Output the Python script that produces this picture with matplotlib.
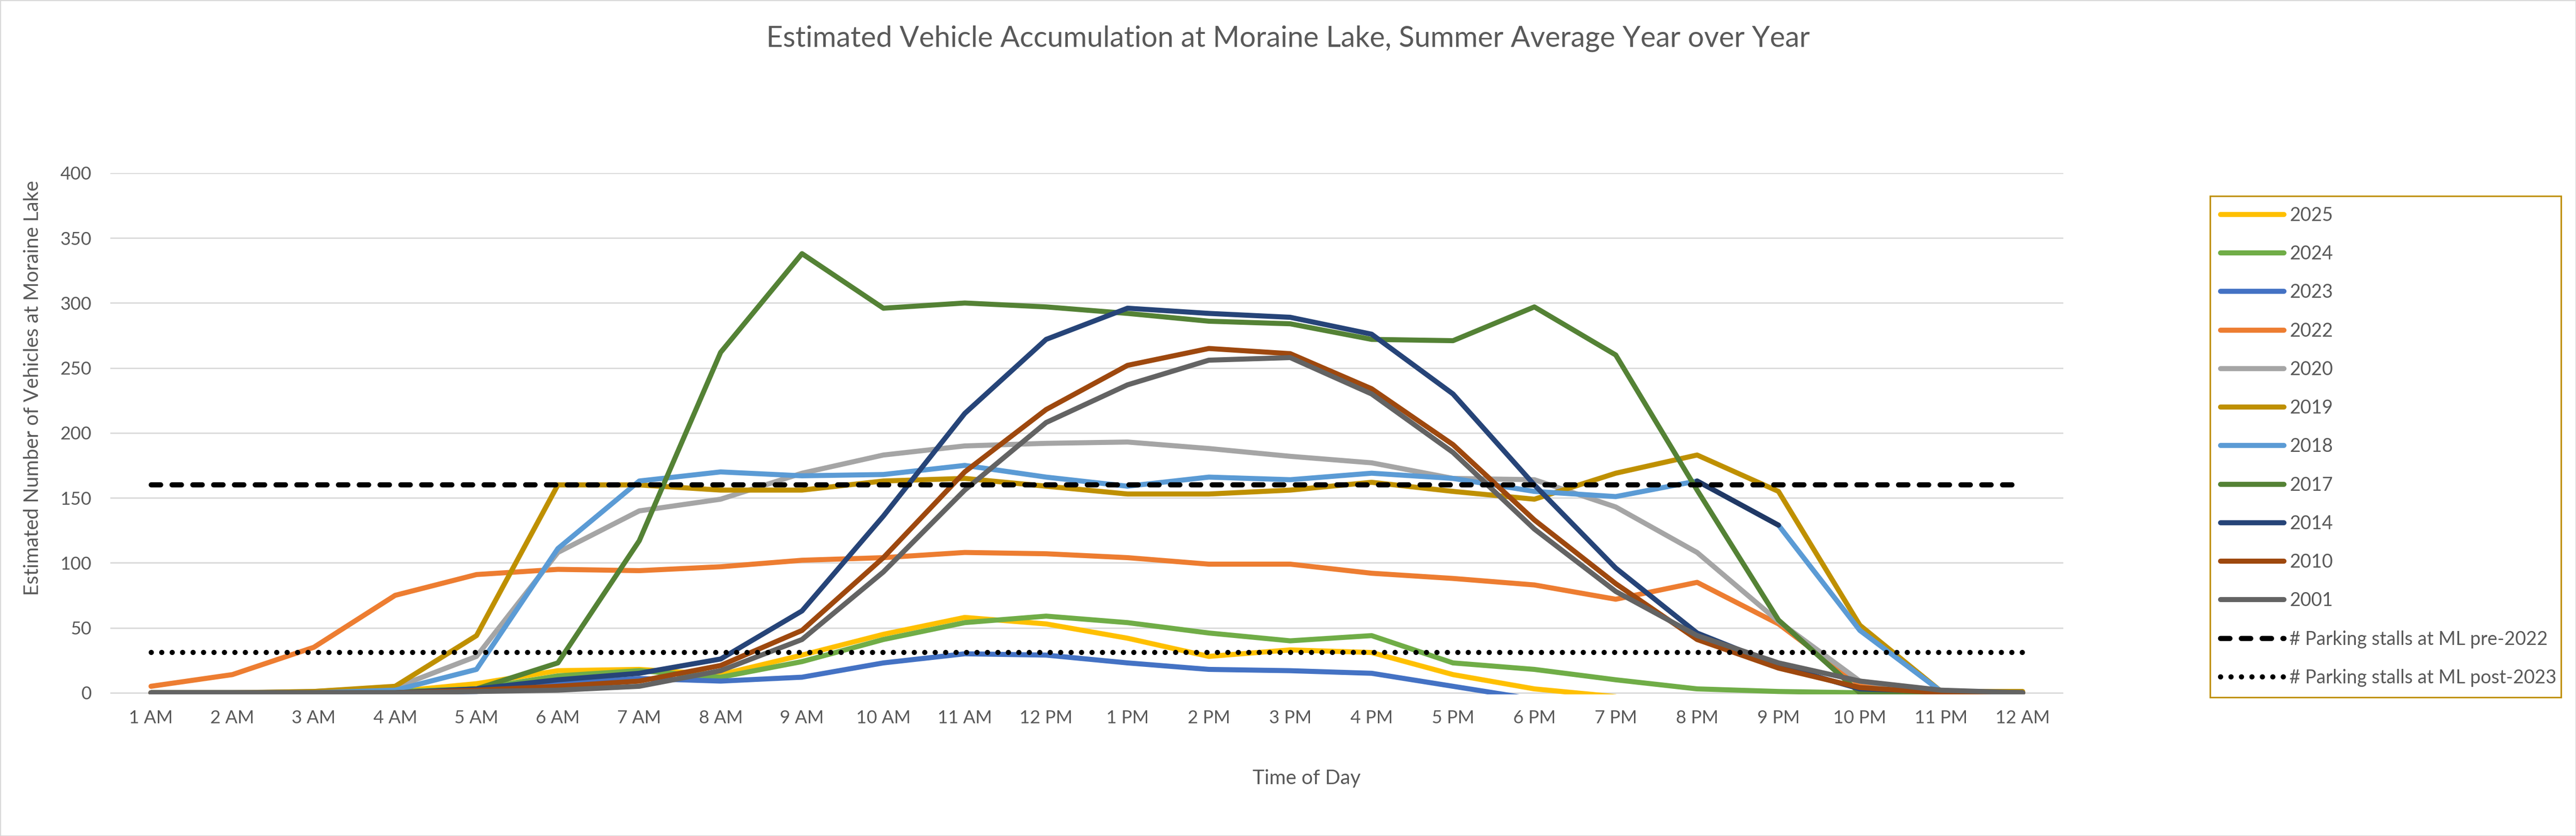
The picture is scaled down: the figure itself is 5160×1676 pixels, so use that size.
import numpy as np
import matplotlib
matplotlib.use("Agg")
import matplotlib.pyplot as plt
from matplotlib.patches import Rectangle

plt.rcParams['font.family'] = ['Lato', 'DejaVu Sans']

nan = np.nan

hours = ['1 AM', '2 AM', '3 AM', '4 AM', '5 AM', '6 AM', '7 AM', '8 AM', '9 AM', '10 AM',
         '11 AM', '12 PM', '1 PM', '2 PM', '3 PM', '4 PM', '5 PM', '6 PM', '7 PM', '8 PM',
         '9 PM', '10 PM', '11 PM', '12 AM']

# estimated vehicles at Moraine Lake by hour
y2025 = [0, 0, 0, 1, 7, 17, 18, 14, 29, 45, 58, 53, 42, 28, 33, 31, 14, 3, -3, nan, nan, nan, nan, nan]
y2024 = [0, 0, 0, 1, 3, 13, 17, 12, 24, 41, 54, 59, 54, 46, 40, 44, 23, 18, 10, 3, 1, 0, 0, 0]
y2023 = [0, 0, 0, 0, 1, 7, 11, 9, 12, 23, 30, 29, 23, 18, 17, 15, 5, -5, nan, nan, nan, nan, nan, nan]
y2022 = [5, 14, 35, 75, 91, 95, 94, 97, 102, 104, 108, 107, 104, 99, 99, 92, 88, 83, 72, 85, 53, 6, 0, 0]
y2020 = [0, 0, 1, 4, 28, 108, 140, 149, 169, 183, 190, 192, 193, 188, 182, 177, 165, 164, 143, 108, 55, 9, 0, 0]
y2019 = [0, 0, 1, 5, 44, 160, 160, 156, 156, 163, 165, 159, 153, 153, 156, 162, 155, 149, 169, 183, 155, 52, 1, 1]
y2018 = [0, 0, 0, 2, 18, 111, 163, 170, 167, 168, 175, 166, 159, 166, 164, 169, 165, 155, 151, 163, 129, 48, 1, 0]
y2017 = [0, 0, 0, 0, 3, 23, 117, 262, 338, 296, 300, 297, 292, 286, 284, 272, 271, 297, 260, 156, 56, 0, 0, 0]
y2014 = [0, 0, 0, 0, 3, 10, 15, 26, 63, 136, 215, 272, 296, 292, 289, 276, 230, 160, 96, 46, 21, 3, 1, 0]
y2010 = [0, 0, 0, 0, 2, 5, 9, 21, 48, 104, 170, 218, 252, 265, 261, 234, 191, 133, 84, 41, 19, 4, 0, 0]
y2001 = [0, 0, 0, 0, 1, 2, 5, 17, 41, 93, 156, 208, 237, 256, 258, 230, 185, 126, 78, 44, 23, 9, 2, 0]

stalls_pre2022 = 160
stalls_post2023 = 31

years = ['2025', '2024', '2023', '2022', '2020', '2019', '2018', '2017', '2014', '2010', '2001']
series = [y2025, y2024, y2023, y2022, y2020, y2019, y2018, y2017, y2014, y2010, y2001]
colors = ['#FFC000', '#70AD47', '#4472C4', '#ED7D31', '#A5A5A5', '#BF9000',
          '#5B9BD5', '#548235', '#264478', '#9E480E', '#636363']

text_col = '#595959'
grid_col = '#D9D9D9'
W, H = 5160, 1676

fig = plt.figure(figsize=(W / 100, H / 100), dpi=100)
ax = fig.add_axes([221 / W, 1 - 1392 / H, 3912 / W, (1392 - 347) / H])

x = np.arange(len(hours))
lw = 7.3
for yr, vals, c in zip(years, series, colors):
    ax.plot(x, vals, color=c, lw=lw, label=yr, solid_capstyle='round', solid_joinstyle='round')
    if yr == '2018':
        # the 8 PM - 9 PM segment of 2018 is drawn in dark navy in the original
        ax.plot(x[19:21], vals[19:21], color='#203864', lw=lw, solid_capstyle='round',
                label='_nolegend_')

ax.plot(x, [stalls_pre2022] * len(hours), color='black', lw=7.5, ls=(0, (1.8, 2.2)),
        dash_capstyle='round', label='# Parking stalls at ML pre-2022')
ax.plot(x, [stalls_post2023] * len(hours), color='black', lw=7.5, ls=(0, (0.01, 2.0)),
        dash_capstyle='round', label='# Parking stalls at ML post-2023')

ax.set_xlim(-0.5, len(hours) - 0.5)
ax.set_ylim(-1.2, 400)
ax.set_yticks(range(0, 401, 50))
ax.set_xticks(x)
ax.set_xticklabels(hours)
ax.yaxis.grid(True, color=grid_col, lw=2)
ax.set_axisbelow(True)
for s in ax.spines.values():
    s.set_visible(False)
ax.tick_params(axis='both', length=0, labelsize=26, labelcolor=text_col)
ax.tick_params(axis='y', pad=27)
ax.tick_params(axis='x', pad=22)

fig.text(0.5, 1 - 77 / H, 'Estimated Vehicle Accumulation at Moraine Lake, Summer Average Year over Year',
         ha='center', va='center', fontsize=41.5, color=text_col)
fig.text(2617 / W, 1 - 1560 / H, 'Time of Day', ha='center', va='center', fontsize=29, color=text_col)
fig.text(66 / W, 1 - 778 / H, 'Estimated Number of Vehicles at Moraine Lake', ha='center', va='center',
         rotation=90, fontsize=29, color=text_col)

handles, labels = ax.get_legend_handles_labels()
leg = fig.legend(handles, labels, loc='upper left', bbox_to_anchor=(4427 / W, 1 - 395 / H, (5130 - 4427) / W, 0.001),
                 mode='expand', fontsize=27, frameon=True, fancybox=False, framealpha=1,
                 handlelength=3.4, handletextpad=0.3, labelspacing=1.1, borderpad=0.55, borderaxespad=0)
leg.get_frame().set_edgecolor('#BF9000')
leg.get_frame().set_linewidth(2.2)
for t in leg.get_texts():
    t.set_color(text_col)

fig.patches.append(Rectangle((0, 0), 1, 1, transform=fig.transFigure, fill=False,
                             edgecolor=grid_col, lw=2.5))

fig.savefig('out.png', dpi=100)
